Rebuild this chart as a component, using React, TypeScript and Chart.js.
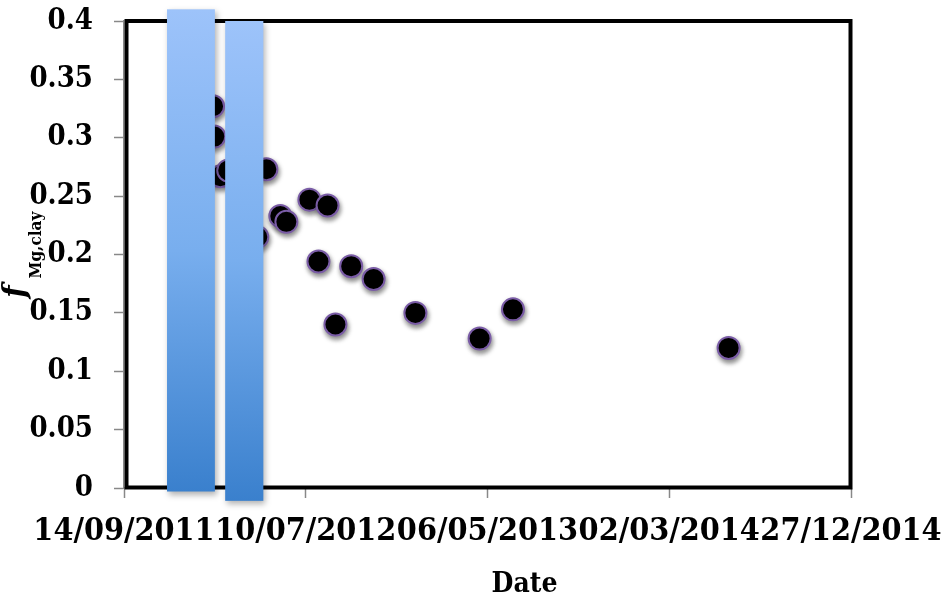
import { useEffect, useRef } from 'react';
import { Chart, registerables } from 'chart.js';

Chart.register(...registerables);

// ---- Data ----
const xTickLabels = ['14/09/2011', '10/07/2012', '06/05/2013', '02/03/2014', '27/12/2014'];
const yTickStep = 0.05;
const yMin = 0;
const yMax = 0.4;

const sampleDates = [
  '2012-02-08', '2012-02-10', '2012-02-20', '2012-03-04', '2012-04-21', '2012-05-06',
  '2012-05-29', '2012-06-08', '2012-07-16', '2012-07-31', '2012-08-15', '2012-08-28',
  '2012-09-23', '2012-10-30', '2013-01-07', '2013-04-23', '2013-06-17', '2014-06-08',
];
const fMgClay = [
  0.327, 0.301, 0.267, 0.272, 0.215, 0.273,
  0.233, 0.228, 0.247, 0.194, 0.242, 0.140,
  0.190, 0.179, 0.150, 0.128, 0.153, 0.120,
];

// shaded periods (blue bands)
const periodStarts = ['2011-11-24', '2012-02-28'];
const periodEnds = ['2012-02-11', '2012-05-01'];
const periodTops = [0.41, 0.4];
const periodBottoms = [-0.003, -0.011];

const xAxisTitle = 'Date';
const yAxisTitleMain = 'f';
const yAxisTitleSub = 'Mg,clay';

// ---- helpers ----
const isoToDay = (s: string) => {
  const [y, m, d] = s.split('-').map(Number);
  return Date.UTC(y, m - 1, d) / 86400000;
};
const dmyToDay = (s: string) => {
  const [d, m, y] = s.split('/').map(Number);
  return Date.UTC(y, m - 1, d) / 86400000;
};
const dayToDmy = (v: number) => {
  const dt = new Date(Math.round(v) * 86400000);
  const p = (n: number) => String(n).padStart(2, '0');
  return `${p(dt.getUTCDate())}/${p(dt.getUTCMonth() + 1)}/${dt.getUTCFullYear()}`;
};

const xTickDays = xTickLabels.map(dmyToDay);
const FONT = '"DejaVu Serif Condensed", "DejaVu Serif", serif';

const framePlugin = {
  id: 'frame',
  beforeDatasetsDraw(chart: any) {
    const { ctx, chartArea: a } = chart;
    ctx.save();
    ctx.strokeStyle = '#000';
    ctx.lineWidth = 4;
    ctx.strokeRect(a.left + 2.5, a.top, a.right - a.left - 3, a.bottom - a.top - 0.5);
    ctx.restore();
  },
  beforeDatasetDraw(chart: any) {
    const ctx = chart.ctx;
    ctx.save();
    ctx.shadowColor = 'rgba(0,0,0,0.45)';
    ctx.shadowBlur = 5;
    ctx.shadowOffsetX = 1;
    ctx.shadowOffsetY = 3;
  },
  afterDatasetDraw(chart: any) {
    chart.ctx.restore();
  },
  afterDatasetsDraw(chart: any) {
    const { ctx, scales } = chart;
    const xs = scales.x;
    const ys = scales.y;
    for (let i = 0; i < periodStarts.length; i++) {
      const x1 = xs.getPixelForValue(isoToDay(periodStarts[i]));
      const x2 = xs.getPixelForValue(isoToDay(periodEnds[i]));
      const yT = ys.getPixelForValue(periodTops[i]);
      const yB = ys.getPixelForValue(periodBottoms[i]);
      const g = ctx.createLinearGradient(0, yT, 0, yB);
      g.addColorStop(0, '#9DC3FA');
      g.addColorStop(0.5, '#78AEEE');
      g.addColorStop(1, '#3A80CD');
      ctx.save();
      ctx.shadowColor = 'rgba(0,0,0,0.3)';
      ctx.shadowBlur = 6;
      ctx.shadowOffsetX = 2;
      ctx.shadowOffsetY = 3;
      ctx.fillStyle = g;
      ctx.fillRect(x1, yT, x2 - x1, yB - yT);
      ctx.restore();
    }
  },
  afterDraw(chart: any) {
    const { ctx, chartArea: a } = chart;
    const cy = (a.top + a.bottom) / 2;
    // y title: italic f + subscript
    ctx.save();
    ctx.fillStyle = '#000';
    ctx.translate(17, cy + 37);
    ctx.rotate(-Math.PI / 2);
    ctx.font = `italic bold 32px ${FONT}`;
    ctx.textAlign = 'center';
    ctx.textBaseline = 'middle';
    ctx.fillText(yAxisTitleMain, 0, 0);
    ctx.restore();
    ctx.save();
    ctx.fillStyle = '#000';
    ctx.translate(37, cy + 24);
    ctx.rotate(-Math.PI / 2);
    ctx.font = `bold 17px ${FONT}`;
    ctx.textAlign = 'left';
    ctx.textBaseline = 'middle';
    ctx.fillText(yAxisTitleSub, 0, 0);
    ctx.restore();
    // x title
    ctx.save();
    ctx.fillStyle = '#000';
    ctx.font = `bold 28px ${FONT}`;
    ctx.textAlign = 'center';
    ctx.textBaseline = 'middle';
    ctx.fillText(xAxisTitle, (a.left + a.right) / 2 + 37, 585);
    ctx.restore();
  },
};

export default function App() {
  const ref = useRef<HTMLCanvasElement | null>(null);
  useEffect(() => {
    if (!ref.current) return;
    const points = sampleDates.map((d, i) => ({ x: isoToDay(d), y: fMgClay[i] }));
    const chart = new Chart(ref.current, {
      type: 'scatter',
      data: {
        datasets: [
          {
            label: 'fMg,clay',
            data: points,
            backgroundColor: '#000',
            borderColor: '#7A5CA6',
            borderWidth: 2,
            pointRadius: 11,
            pointHoverRadius: 11,
          },
        ],
      },
      options: {
        animation: false,
        responsive: true,
        maintainAspectRatio: false,
        layout: { padding: { top: 21, right: 97, left: 0, bottom: 0 } },
        plugins: { legend: { display: false }, tooltip: { enabled: false }, title: { display: false } },
        scales: {
          x: {
            type: 'linear',
            min: xTickDays[0],
            max: xTickDays[xTickDays.length - 1],
            afterBuildTicks: (s: any) => {
              s.ticks = xTickDays.map((v) => ({ value: v }));
            },
            afterFit: (s: any) => {
              s.height = 117;
              s.paddingLeft = 0;
              s.paddingRight = 0;
            },
            ticks: {
              callback: (v: any) => dayToDmy(Number(v)),
              font: { family: FONT, size: 32, weight: 'bold' },
              color: '#000',
              padding: 14,
              maxRotation: 0,
              minRotation: 0,
              autoSkip: false,
            },
            grid: { drawOnChartArea: false, drawTicks: true, tickLength: 10, tickColor: '#888', tickWidth: 1.5 },
            border: { display: true, color: '#888', width: 1.5 },
          },
          y: {
            type: 'linear',
            min: yMin,
            max: yMax,
            afterFit: (s: any) => {
              s.width = 124;
              s.paddingTop = 0;
              s.paddingBottom = 0;
            },
            ticks: {
              stepSize: yTickStep,
              callback: (v: any) => String(Number(Number(v).toFixed(2))),
              font: { family: FONT, size: 29, weight: 'bold' },
              color: '#000',
              padding: 21,
            },
            grid: { drawOnChartArea: false, drawTicks: true, tickLength: 10, tickColor: '#888', tickWidth: 1.5 },
            border: { display: true, color: '#888', width: 1.5 },
          },
        },
      },
      plugins: [framePlugin],
    });
    return () => chart.destroy();
  }, []);
  return (
    <div style={{ position: 'fixed', left: 0, top: 0, width: 948, height: 605, background: '#fff' }}>
      <canvas ref={ref} />
    </div>
  );
}
